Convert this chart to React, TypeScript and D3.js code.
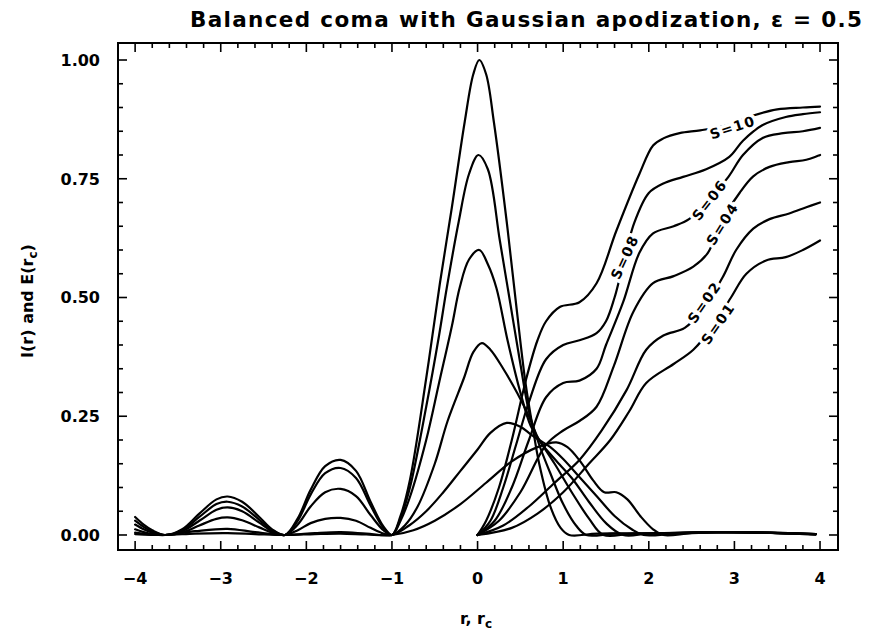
import React from 'react';
import * as d3 from 'd3';

type Pt = [number, number];

const title = 'Balanced coma with Gaussian apodization, ε = 0.5';
const xTickValues = [-4, -3, -2, -1, 0, 1, 2, 3, 4];
const xTickLabels = ['−4', '−3', '−2', '−1', '0', '1', '2', '3', '4'];
const yTickValues = [0, 0.25, 0.5, 0.75, 1];
const yTickLabels = ['0.00', '0.25', '0.50', '0.75', '1.00'];

// Point spread functions I(r)
const psf10: Pt[] = [
  [-4, 0.038], [-3.9, 0.022], [-3.8, 0.01], [-3.65, 0], [-3.45, 0.012], [-3.25, 0.045], [-3.05, 0.075], [-2.92, 0.081],
  [-2.75, 0.07], [-2.55, 0.038], [-2.4, 0.012], [-2.25, 0], [-2.1, 0.035], [-1.95, 0.095], [-1.78, 0.145], [-1.6, 0.158],
  [-1.42, 0.135], [-1.25, 0.07], [-1.1, 0.018], [-1.0, 0], [-0.9, 0.04], [-0.79, 0.116], [-0.6, 0.33], [-0.44, 0.53],
  [-0.3, 0.69], [-0.15, 0.87], [-0.05, 0.97], [0.02, 1.0], [0.1, 0.97], [0.19, 0.87], [0.34, 0.66], [0.46, 0.47],
  [0.56, 0.32], [0.65, 0.22], [0.72, 0.15], [0.85, 0.06], [0.97, 0.015], [1.07, 0], [1.4, 0.003], [2.2, 0.003],
  [2.7, 0.006], [3.3, 0.005], [3.95, 0.001],
];
const psf08: Pt[] = [
  [-4, 0.03], [-3.9, 0.017], [-3.8, 0.007], [-3.65, 0], [-3.45, 0.01], [-3.25, 0.038], [-3.05, 0.065], [-2.92, 0.07],
  [-2.75, 0.06], [-2.55, 0.032], [-2.4, 0.01], [-2.25, 0], [-2.1, 0.03], [-1.95, 0.085], [-1.78, 0.13], [-1.6, 0.141],
  [-1.42, 0.12], [-1.25, 0.062], [-1.1, 0.015], [-1.0, 0], [-0.9, 0.035], [-0.79, 0.1], [-0.6, 0.27], [-0.45, 0.42],
  [-0.36, 0.52], [-0.22, 0.66], [-0.1, 0.76], [0.01, 0.8], [0.12, 0.77], [0.26, 0.62], [0.38, 0.49], [0.5, 0.36],
  [0.6, 0.26], [0.72, 0.19], [0.85, 0.13], [1.0, 0.065], [1.15, 0.02], [1.27, 0], [1.6, 0.003], [2.2, 0.004],
  [2.7, 0.006], [3.3, 0.005], [3.95, 0.002],
];
const psf06: Pt[] = [
  [-4, 0.022], [-3.9, 0.012], [-3.8, 0.005], [-3.65, 0], [-3.45, 0.008], [-3.25, 0.03], [-3.05, 0.053], [-2.92, 0.058],
  [-2.75, 0.05], [-2.55, 0.026], [-2.4, 0.008], [-2.25, 0], [-2.1, 0.022], [-1.95, 0.06], [-1.78, 0.09], [-1.6, 0.097],
  [-1.42, 0.082], [-1.25, 0.042], [-1.1, 0.01], [-1.0, 0], [-0.9, 0.03], [-0.79, 0.08], [-0.6, 0.2], [-0.45, 0.32],
  [-0.3, 0.44], [-0.21, 0.52], [-0.1, 0.58], [0.02, 0.6], [0.12, 0.57], [0.22, 0.52], [0.35, 0.41], [0.5, 0.3],
  [0.62, 0.23], [0.72, 0.2], [0.9, 0.15], [1.1, 0.09], [1.3, 0.035], [1.47, 0], [1.8, 0.003], [2.3, 0.004],
  [2.8, 0.006], [3.4, 0.005], [3.95, 0.002],
];
const psf04: Pt[] = [
  [-4, 0.012], [-3.9, 0.006], [-3.8, 0.002], [-3.65, 0], [-3.45, 0.005], [-3.25, 0.02], [-3.05, 0.034], [-2.92, 0.037],
  [-2.75, 0.031], [-2.55, 0.016], [-2.4, 0.005], [-2.25, 0], [-2.1, 0.01], [-1.95, 0.025], [-1.78, 0.034], [-1.6, 0.036],
  [-1.42, 0.03], [-1.25, 0.015], [-1.1, 0.003], [-1.0, 0], [-0.85, 0.02], [-0.7, 0.06], [-0.5, 0.15], [-0.35, 0.24],
  [-0.16, 0.33], [-0.05, 0.385], [0.05, 0.404], [0.15, 0.39], [0.3, 0.35], [0.46, 0.3], [0.6, 0.25], [0.72, 0.2],
  [0.9, 0.16], [1.1, 0.12], [1.3, 0.07], [1.5, 0.025], [1.7, 0], [2.0, 0.003], [2.5, 0.005], [3.0, 0.006],
  [3.5, 0.004], [3.95, 0.002],
];
const psf02: Pt[] = [
  [-4, 0.005], [-3.8, 0.001], [-3.65, 0], [-3.3, 0.008], [-2.92, 0.013], [-2.6, 0.006], [-2.25, 0], [-1.9, 0.004],
  [-1.6, 0.006], [-1.3, 0.003], [-1.0, 0], [-0.8, 0.02], [-0.6, 0.05], [-0.4, 0.09], [-0.2, 0.135], [0.0, 0.18],
  [0.15, 0.215], [0.34, 0.236], [0.5, 0.228], [0.62, 0.212], [0.72, 0.2], [0.85, 0.185], [1.0, 0.16], [1.2, 0.12],
  [1.4, 0.08], [1.6, 0.04], [1.8, 0.012], [1.94, 0], [2.3, 0.003], [2.8, 0.006], [3.4, 0.005], [3.95, 0.002],
];
const psf01: Pt[] = [
  [-4, 0.002], [-3.65, 0], [-3.3, 0.003], [-2.92, 0.004], [-2.6, 0.002], [-2.25, 0], [-1.9, 0.002], [-1.6, 0.003],
  [-1.3, 0.001], [-1.0, 0], [-0.75, 0.01], [-0.5, 0.03], [-0.2, 0.065], [0.1, 0.11], [0.4, 0.155], [0.7, 0.185],
  [0.92, 0.195], [1.05, 0.185], [1.2, 0.155], [1.35, 0.115], [1.48, 0.09], [1.62, 0.09], [1.75, 0.075],
  [1.9, 0.04], [2.05, 0.012], [2.17, 0], [2.5, 0.004], [3.0, 0.006], [3.5, 0.004], [3.95, 0.001],
];

// Encircled energy E(rc)
const ee10: Pt[] = [
  [0, 0], [0.1, 0.03], [0.25, 0.1], [0.4, 0.2], [0.57, 0.33], [0.7, 0.41], [0.8, 0.45], [0.96, 0.48], [1.19, 0.49],
  [1.39, 0.53], [1.62, 0.64], [1.89, 0.76], [2.05, 0.82], [2.17, 0.835], [2.36, 0.846], [2.6, 0.852], [2.9, 0.862],
  [3.2, 0.882], [3.5, 0.896], [3.8, 0.9], [4, 0.902],
];
const ee08: Pt[] = [
  [0, 0], [0.15, 0.03], [0.3, 0.1], [0.45, 0.19], [0.6, 0.28], [0.8, 0.37], [1.0, 0.4], [1.19, 0.41], [1.39, 0.425],
  [1.5, 0.45], [1.6, 0.5], [1.83, 0.657], [2.0, 0.72], [2.17, 0.74], [2.4, 0.754], [2.67, 0.77], [2.94, 0.796],
  [3.1, 0.83], [3.33, 0.863], [3.6, 0.88], [3.8, 0.886], [4, 0.89],
];
const ee06: Pt[] = [
  [0, 0], [0.2, 0.03], [0.4, 0.1], [0.6, 0.2], [0.8, 0.29], [1.0, 0.32], [1.19, 0.325], [1.39, 0.35], [1.5, 0.4],
  [1.7, 0.49], [1.89, 0.594], [2.05, 0.635], [2.29, 0.65], [2.47, 0.665], [2.7, 0.705], [2.93, 0.754], [3.1, 0.8],
  [3.33, 0.836], [3.57, 0.846], [3.8, 0.85], [4, 0.857],
];
const ee04: Pt[] = [
  [0, 0], [0.25, 0.03], [0.5, 0.09], [0.8, 0.19], [1.0, 0.22], [1.19, 0.24], [1.39, 0.27], [1.59, 0.355], [1.82, 0.47],
  [2.05, 0.53], [2.29, 0.545], [2.52, 0.565], [2.69, 0.594], [2.85, 0.66], [3.06, 0.72], [3.22, 0.755], [3.41, 0.775],
  [3.64, 0.785], [3.84, 0.79], [4, 0.8],
];
const ee02: Pt[] = [
  [0, 0], [0.3, 0.02], [0.6, 0.06], [0.9, 0.11], [1.19, 0.158], [1.45, 0.22], [1.74, 0.305], [1.97, 0.39], [2.17, 0.42],
  [2.42, 0.436], [2.65, 0.48], [2.87, 0.545], [3.02, 0.6], [3.22, 0.645], [3.41, 0.665], [3.64, 0.677], [3.84, 0.69],
  [4, 0.7],
];
const ee01: Pt[] = [
  [0, 0], [0.4, 0.015], [0.7, 0.045], [1.0, 0.09], [1.3, 0.15], [1.55, 0.2], [1.77, 0.26], [1.97, 0.32], [2.29, 0.36],
  [2.52, 0.39], [2.75, 0.44], [2.96, 0.5], [3.14, 0.55], [3.37, 0.578], [3.6, 0.585], [3.8, 0.6], [4, 0.62],
];

const psfSeries = [psf10, psf08, psf06, psf04, psf02, psf01];
const eeSeries = [ee10, ee08, ee06, ee04, ee02, ee01];

const curveLabels = ['S=10', 'S=08', 'S=06', 'S=04', 'S=02', 'S=01'];
const labelX = [2.98, 1.72, 2.71, 2.86, 2.65, 2.81];
const labelY = [0.858, 0.585, 0.705, 0.655, 0.49, 0.445];
const labelAngle = [-18, -65, -52, -58, -55, -55];

const W = 871;
const H = 636;
const frame = { left: 118, right: 838, top: 43, bottom: 550 };
const FONT = "'DejaVu Sans', Verdana, sans-serif";

export default function App() {
  const x = d3.scaleLinear().domain([-4.2, 4.21]).range([frame.left, frame.right]);
  const y = d3.scaleLinear().domain([-0.0316, 1.0358]).range([frame.bottom, frame.top]);
  const line = d3
    .line<Pt>()
    .x((d) => x(d[0]))
    .y((d) => y(d[1]))
    .curve(d3.curveCatmullRom.alpha(0.5));

  const xMinor = x.ticks(40).filter((v) => v > -4.15 && v < 4.15 && Math.abs(v - Math.round(v)) > 1e-6);
  const yMinor = y.ticks(20).filter((v) => Math.abs(v * 4 - Math.round(v * 4)) > 1e-6);
  const majorLen = 9;
  const minorLen = 5;

  return (
    <svg
      width={W}
      height={H}
      viewBox={`0 0 ${W} ${H}`}
      style={{ position: 'absolute', left: 0, top: 0, background: '#fff' }}
    >
      <rect x={0} y={0} width={W} height={H} fill="#fff" />
      <text
        x={190}
        y={27}
        fontFamily={FONT}
        fontWeight="bold"
        fontSize={21.5}
        textLength={672}
        lengthAdjust="spacing"
        fill="#000"
      >
        {title}
      </text>

      {/* curves */}
      <g fill="none" stroke="#000" strokeWidth={2.2} strokeLinejoin="round" strokeLinecap="round">
        {psfSeries.map((s, i) => (
          <path key={'p' + i} d={line(s) || ''} />
        ))}
        {eeSeries.map((s, i) => (
          <path key={'e' + i} d={line(s) || ''} />
        ))}
      </g>

      {/* curve labels */}
      {curveLabels.map((t, i) => (
        <text
          key={'l' + i}
          transform={`translate(${x(labelX[i])},${y(labelY[i])}) rotate(${labelAngle[i]})`}
          textAnchor="middle"
          dy="0.35em"
          fontFamily={FONT}
          fontWeight="bold"
          fontSize={14}
          letterSpacing={1.5}
          fill="#000"
          stroke="#fff"
          strokeWidth={7}
          style={{ paintOrder: 'stroke' }}
        >
          {t}
        </text>
      ))}

      {/* frame */}
      <rect
        x={frame.left}
        y={frame.top}
        width={frame.right - frame.left}
        height={frame.bottom - frame.top}
        fill="none"
        stroke="#000"
        strokeWidth={2}
      />

      {/* ticks */}
      <g stroke="#000" strokeWidth={1.6}>
        {xTickValues.map((v) => (
          <g key={'xt' + v}>
            <line x1={x(v)} x2={x(v)} y1={frame.bottom} y2={frame.bottom - majorLen} />
            <line x1={x(v)} x2={x(v)} y1={frame.top} y2={frame.top + majorLen} />
          </g>
        ))}
        {xMinor.map((v) => (
          <g key={'xm' + v}>
            <line x1={x(v)} x2={x(v)} y1={frame.bottom} y2={frame.bottom - minorLen} />
            <line x1={x(v)} x2={x(v)} y1={frame.top} y2={frame.top + minorLen} />
          </g>
        ))}
        {yTickValues.map((v) => (
          <g key={'yt' + v}>
            <line x1={frame.left} x2={frame.left + majorLen} y1={y(v)} y2={y(v)} />
            <line x1={frame.right} x2={frame.right - majorLen} y1={y(v)} y2={y(v)} />
          </g>
        ))}
        {yMinor.map((v) => (
          <g key={'ym' + v}>
            <line x1={frame.left} x2={frame.left + minorLen} y1={y(v)} y2={y(v)} />
            <line x1={frame.right} x2={frame.right - minorLen} y1={y(v)} y2={y(v)} />
          </g>
        ))}
      </g>

      {/* tick labels */}
      <g fontFamily={FONT} fontWeight="bold" fontSize={16} fill="#000">
        {xTickValues.map((v, i) => (
          <text key={'xl' + v} x={x(v)} y={584} textAnchor="middle">
            {xTickLabels[i]}
          </text>
        ))}
        {yTickValues.map((v, i) => (
          <text key={'yl' + v} x={100} y={y(v)} dy="0.36em" textAnchor="end">
            {yTickLabels[i]}
          </text>
        ))}
      </g>

      {/* axis titles */}
      <text x={476} y={624} textAnchor="middle" fontFamily={FONT} fontWeight="bold" fontSize={16} fill="#000">
        r, r<tspan dy={4} fontSize={12}>c</tspan>
      </text>
      <text
        transform={`translate(33,301) rotate(-90)`}
        textAnchor="middle"
        fontFamily={FONT}
        fontWeight="bold"
        fontSize={16}
        fill="#000"
      >
        I(r) and E(r<tspan dy={4} fontSize={12}>c</tspan>
        <tspan dy={-4}>)</tspan>
      </text>
    </svg>
  );
}
